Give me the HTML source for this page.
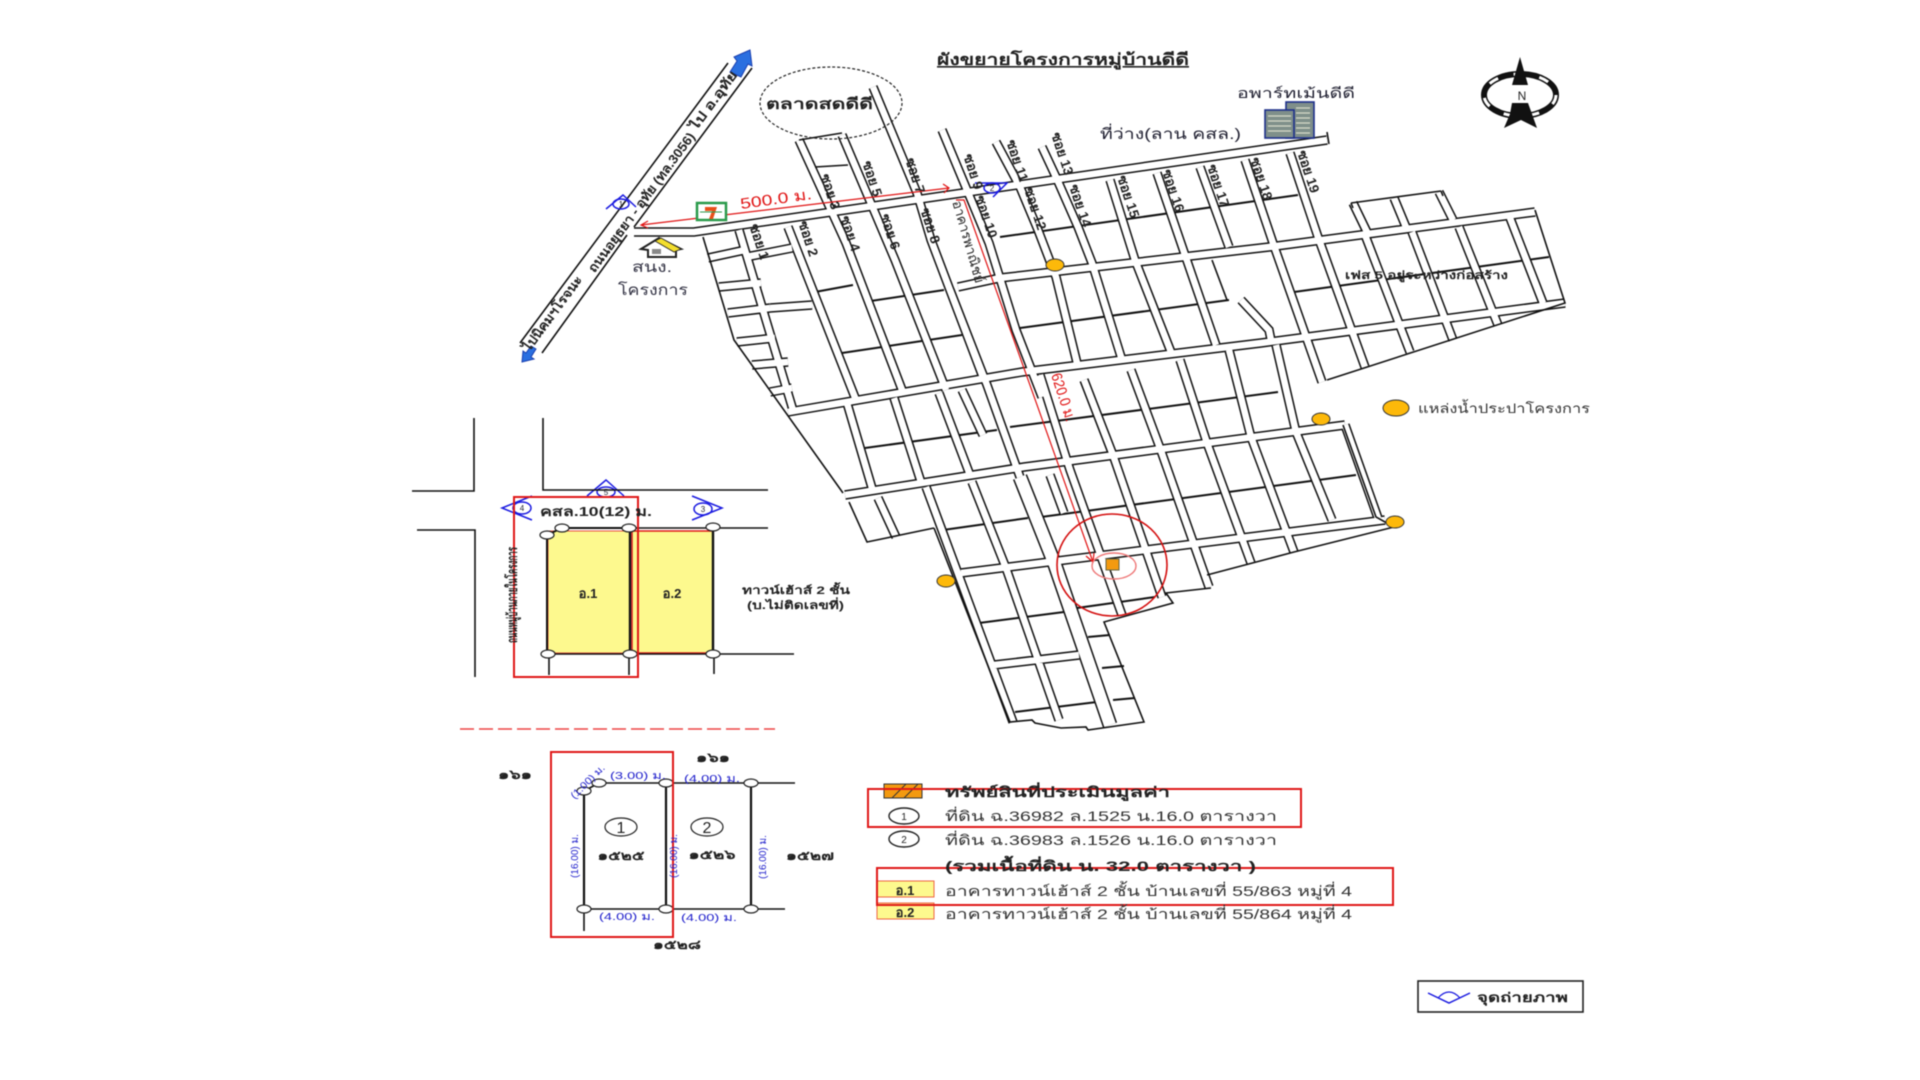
<!DOCTYPE html>
<html><head><meta charset="utf-8"><style>
html,body{margin:0;padding:0;background:#fff;width:1920px;height:1080px;overflow:hidden}
svg{display:block;filter:blur(.5px)}
text{font-family:"Liberation Sans","DejaVu Sans","Noto Sans CJK SC",sans-serif}
.b{font-weight:bold}
.bl{font-size:10px;fill:#22c}
.d{font-size:13px;font-weight:bold;fill:#222;text-anchor:middle}
</style></head><body>
<svg width="1920" height="1080" viewBox="0 0 1920 1080" xmlns="http://www.w3.org/2000/svg">
<defs>
<path id="r" d="M634 232L694 232L1327 140M958 287L1000 278L1269 247L1535 212M788 412L1022 372L1261 343L1565 303M845 495L1024 467L1345 425M961 573L1385 520
M739 230L793 410M788 227L856 400M799 140L846 243L904 395M842 135L895 260L946 390M873 87L917 193L931 240L984 380M942 130L967 190L989 243L1016 330L1042 397M996 142L1020 187L1038 230L1056 277L1078 367M1042 147L1056 177L1078 227L1092 263L1122 360M1110 180L1135 260L1171 352M1157 173L1184 252L1216 345M1200 167L1229 247M1245 160L1273 243L1322 382M1290 153L1318 237L1365 367M1365 235L1410 352M1412 232L1453 340M1459 227L1498 325M1510 218L1543 303M1353 203L1367 232M1394 198L1406 227M1439 192L1453 220
M847 403L872 488M894 398L921 482M939 393L970 475M950 290L987 385L1020 477M962 390L983 435M1040 375L1070 470L1122 615M1084 380L1113 455L1162 597M1131 370L1160 448L1209 587M1180 360L1207 443L1251 563M1229 350L1251 437L1294 552M1276 345L1296 432L1332 520M1345 425L1378 518
M926 487L1013 722M972 482L1006 568L1059 720M878 498L896 537M1050 475L1064 513M994 665L1079 655
M708 258L745 250M719 287L761 283M728 313L770 308M737 342L775 338M752 365L788 362M770 392L792 388M746 257L792 248M770 308L812 305
M1241 300L1269 330L1271 340"/>
<path id="w" d="M1020 477L1055 565L1110 725"/>
</defs>
<g fill="none" stroke-linejoin="miter">
<use href="#r" stroke="#111" stroke-width="9.5"/>
<use href="#w" stroke="#111" stroke-width="15"/>
<!-- block dividers sit under the white road fill -->
<g stroke="#111" stroke-width="2">
<path d="M1000 237L1298 195M1294 292L1549 257M1020 328L1229 300M815 292L853 285M864 302L944 290M842 353L962 335M865 448L997 430M1010 427L1278 392M943 530L1028 518M1041 517L1356 475M979 623L1064 612M1077 608L1155 597M1015 712L1097 702M1088 637L1110 635M1102 668L1124 666M1113 700L1135 698"/>
<path d="M1212 260L1227 300" stroke-width="1.6"/>
</g>
<use href="#r" stroke="#fff" stroke-width="6.5"/>
<use href="#w" stroke="#fff" stroke-width="12"/>
<!-- boundaries and single lines -->
<g stroke="#111" stroke-width="1.6">
<path d="M703 237L734 340L843 493M1351 203L1441 191M1351 203L1353 208M1441 191L1443 196M1535 210L1565 303L1327 380M1343 425L1376 517L1394 527L1294 552L1207 575M1211 588L1166 593L1173 603L1104 622L1144 722L1088 730L1086 727L1061 728L1035 723L1032 720L1010 722L934 528M849 502L867 542L934 528"/>
<path d="M1327 132L1329 144M799 140L842 133M815 167L848 165"/>
</g>
<!-- highway -->
<g stroke="#111" stroke-width="1.6">
<path d="M728 63L520 343M752 68L634 227M627 235L542 353"/>
</g>
<path d="M730 72L737 61L734 57L750 50L752 66L748 64L741 77Z" fill="#2a6fe0" stroke="#1a3fb0" stroke-width="1"/>
<path d="M522 362L523 351L526 353L531 346L536 349L531 357L534 359Z" fill="#2a6fe0" stroke="#1a3fb0" stroke-width="1"/>
<ellipse cx="831" cy="103" rx="71" ry="36" stroke="#222" stroke-width="1.2" stroke-dasharray="3 2"/>
<!-- red routes -->
<g stroke="#e01414" stroke-width="1.2">
<path d="M641 225L949 188M648 221L641 225L648 228M943 184L949 188L944 193"/>
<path d="M956 200L964 200L1093 562M1086 556L1093 562L1094 553"/>
<ellipse cx="1112" cy="565" rx="55" ry="51" stroke="#d40f0f" stroke-width="1.6"/>
<ellipse cx="1114" cy="566" rx="22" ry="13" stroke="#ee7777" stroke-width="1.4"/>
</g>
</g>
<rect x="1106" y="559" width="13" height="11" fill="#f39a10" stroke="#664" stroke-width="1"/>
<!-- dots -->
<g fill="#fdb90a" stroke="#333" stroke-width="1">
<ellipse cx="1055" cy="265" rx="9" ry="6"/><ellipse cx="1321" cy="419" rx="9" ry="6"/><ellipse cx="1395" cy="522" rx="9" ry="6"/><ellipse cx="946" cy="581" rx="9" ry="6"/><ellipse cx="1396" cy="408" rx="13" ry="8"/>
</g>
<!-- 7-11 -->
<rect x="697" y="203" width="29" height="17" fill="#fff" stroke="#2a9a4a" stroke-width="2.5"/>
<path d="M705 207H717L713 219H709L712 211H705Z" fill="#e8501a"/>
<path d="M700 212H722" stroke="#2a9a4a" stroke-width="1"/>
<!-- house -->
<path d="M641 249L659 238L681 249L676 250V257H648V250Z" fill="#fff" stroke="#222" stroke-width="2"/>
<path d="M661 238L681 249L674 252L655 241Z" fill="#f3de2e" stroke="#222" stroke-width=".8"/>
<rect x="652" y="249" width="9" height="5" fill="#888"/>
<!-- apartment -->
<g stroke="#1d2f8a" stroke-width="1.6" fill="#7f8f8a">
<rect x="1286" y="102" width="28" height="36"/><rect x="1265" y="110" width="29" height="28"/>
</g>
<g stroke="#d8dcc8" stroke-width="1.2"><path d="M1296 108H1310M1296 113H1310M1296 118H1310M1296 123H1310M1296 128H1310M1296 133H1310M1268 116H1291M1268 121H1291M1268 126H1291M1268 131H1291"/></g>
<!-- compass -->
<ellipse cx="1520" cy="95" rx="36" ry="21" fill="none" stroke="#111" stroke-width="6"/>
<ellipse cx="1520" cy="95" rx="36" ry="21" fill="none" stroke="#fff" stroke-width="3" stroke-dasharray="10 16"/>
<path d="M1520 57L1512 85H1528Z" fill="#111"/>
<path d="M1512 103H1528L1532 114L1537 128L1521 120L1504 128L1510 114Z" fill="#111"/>
<text x="1522" y="100" font-size="12" text-anchor="middle" fill="#222">N</text>
<!-- markers -->
<g fill="none" stroke="#1a1ae0" stroke-width="1.5">
<path d="M606 209L623 195L636 207"/><ellipse cx="621" cy="204" rx="8" ry="5"/>
<path d="M975 183H1007L993 197"/><ellipse cx="992" cy="188" rx="8" ry="5"/>
<path d="M587 496L606 480L624 496"/><ellipse cx="606" cy="492" rx="9" ry="5"/>
<path d="M532 496L502 508L532 520"/><ellipse cx="522" cy="508" rx="9" ry="6"/>
<path d="M692 496L722 508L692 520"/><ellipse cx="703" cy="509" rx="9" ry="6"/>
<path d="M1428 993L1449 1003L1470 993"/><path d="M1438 998Q1449 986 1460 998" stroke-width="1.2"/>
</g>
<g font-size="8" fill="#223" text-anchor="middle">
<text x="621" y="207">1</text><text x="992" y="191">2</text><text x="606" y="495">5</text><text x="522" y="511">4</text><text x="703" y="512">3</text>
</g>
<!-- inset 1 -->
<rect x="548" y="531" width="82" height="122" fill="#fdf98e" stroke="#e85040" stroke-width="1"/>
<rect x="632" y="531" width="81" height="122" fill="#fdf98e" stroke="#e01818" stroke-width="1.5"/>
<g fill="none" stroke="#111" stroke-width="1.6">
<path d="M474 418V491H412M543 418V490H768M417 530H475V677M562 528H768M713 654H794M548 654H713M549 654V675M629 654V675M714 654V674"/>
<path d="M547 535V654M562 528H629M547 535L562 528" stroke-width="2"/>
<path d="M630 528V654M713 528V654" stroke-width="2.4"/>
</g>
<g fill="#fff" stroke="#222" stroke-width="1.2">
<ellipse cx="547" cy="535" rx="7" ry="4"/><ellipse cx="562" cy="528" rx="7" ry="4"/><ellipse cx="629" cy="528" rx="7" ry="4"/><ellipse cx="713" cy="527" rx="7" ry="4"/><ellipse cx="548" cy="654" rx="7" ry="4"/><ellipse cx="630" cy="654" rx="7" ry="4"/><ellipse cx="713" cy="654" rx="7" ry="4"/>
</g>
<rect x="514" y="497" width="124" height="180" fill="none" stroke="#e01818" stroke-width="2"/>
<line x1="460" y1="729" x2="775" y2="729" stroke="#e44" stroke-width="1.6" stroke-dasharray="14 5"/>
<!-- inset 2 -->
<g fill="none" stroke="#111" stroke-width="1.6">
<path d="M599 783H795M584 909H785M584 909V931M584 791L599 783"/>
<path d="M584 791V909M666 783V909M751 783V909" stroke-width="2.2"/>
</g>
<g fill="#fff" stroke="#222" stroke-width="1.2">
<ellipse cx="584" cy="791" rx="7" ry="4"/><ellipse cx="599" cy="783" rx="7" ry="4"/><ellipse cx="666" cy="783" rx="7" ry="4"/><ellipse cx="751" cy="783" rx="7" ry="4"/><ellipse cx="584" cy="909" rx="7" ry="4"/><ellipse cx="666" cy="909" rx="7" ry="4"/><ellipse cx="751" cy="909" rx="7" ry="4"/>
<ellipse cx="621" cy="827" rx="16" ry="9"/><ellipse cx="707" cy="827" rx="16" ry="9"/>
</g>
<rect x="551" y="752" width="122" height="185" fill="none" stroke="#e01818" stroke-width="2"/>
<!-- legend graphics -->
<rect x="884" y="784" width="38" height="14" fill="#f39a10" stroke="#333" stroke-width="1"/>
<path d="M892 798L906 784M904 798L918 784" stroke="#333"/>
<g fill="#fff" stroke="#222" stroke-width="1.4"><ellipse cx="904" cy="816" rx="15" ry="8"/><ellipse cx="904" cy="839" rx="15" ry="8"/></g>
<rect x="877" y="881" width="57" height="16" fill="#fdf98e" stroke="#ee6644" stroke-width="1"/>
<rect x="877" y="903" width="57" height="16" fill="#fdf98e" stroke="#ee6644" stroke-width="1"/>
<rect x="868" y="789" width="433" height="38" fill="none" stroke="#e01818" stroke-width="2"/>
<rect x="877" y="868" width="516" height="37" fill="none" stroke="#e01818" stroke-width="2"/>
<rect x="1418" y="981" width="165" height="31" fill="none" stroke="#222" stroke-width="1.6"/>
<!-- texts -->
<text x="937" y="65" font-size="16" class="b" fill="#222" text-decoration="underline" textLength="252" lengthAdjust="spacingAndGlyphs">ผังขยายโครงการหมู่บ้านดีดี</text>
<text x="766" y="109" font-size="15" class="b" fill="#222" textLength="107" lengthAdjust="spacingAndGlyphs">ตลาดสดดีดี</text>
<text x="1237" y="98" font-size="14" fill="#223" textLength="118" lengthAdjust="spacingAndGlyphs">อพาร์ทเม้นดีดี</text>
<text x="1100" y="139" font-size="15" fill="#223" textLength="141" lengthAdjust="spacingAndGlyphs">ที่ว่าง(ลาน คสล.)</text>
<text x="632" y="272" font-size="15" fill="#334" textLength="40" lengthAdjust="spacingAndGlyphs">สนง.</text>
<text x="618" y="295" font-size="15" fill="#334" textLength="70" lengthAdjust="spacingAndGlyphs">โครงการ</text>
<text x="1418" y="413" font-size="13" fill="#333" textLength="172" lengthAdjust="spacingAndGlyphs">แหล่งน้ำประปาโครงการ</text>
<text x="1345" y="279" font-size="11" class="b" fill="#222" textLength="163" lengthAdjust="spacingAndGlyphs">เฟส 5 อยู่ระหว่างก่อสร้าง</text>
<text transform="translate(741,209) rotate(-8)" font-size="15" fill="#e01414" textLength="72" lengthAdjust="spacingAndGlyphs">500.0 ม.</text>
<text transform="translate(1051,375) rotate(72)" font-size="15" fill="#e01414" textLength="50" lengthAdjust="spacingAndGlyphs">620.0 ม.</text>
<text transform="translate(645,205) rotate(-53.5)" font-size="13" class="b" fill="#222" text-anchor="middle" textLength="170" lengthAdjust="spacingAndGlyphs">ถนนอยุธยา - อุทัย (ทล.3056)</text>
<text transform="translate(717,103) rotate(-53.5)" font-size="13" class="b" fill="#222" text-anchor="middle" textLength="70" lengthAdjust="spacingAndGlyphs">ไป อ.อุทัย</text>
<text transform="translate(556,316) rotate(-53.5)" font-size="13" class="b" fill="#222" text-anchor="middle" textLength="90" lengthAdjust="spacingAndGlyphs">ไปนิคมฯโรจนะ</text>
<g font-size="13.5" font-weight="bold" fill="#222" text-anchor="middle">
<text transform="translate(755,243) rotate(72)">ซอย 1</text>
<text transform="translate(804,240) rotate(72)">ซอย 2</text>
<text transform="translate(826,193) rotate(72)">ซอย 3</text>
<text transform="translate(846,235) rotate(72)">ซอย 4</text>
<text transform="translate(868,180) rotate(72)">ซอย 5</text>
<text transform="translate(886,233) rotate(72)">ซอย 6</text>
<text transform="translate(911,177) rotate(72)">ซอย 7</text>
<text transform="translate(926,227) rotate(72)">ซอย 8</text>
<text transform="translate(969,173) rotate(72)">ซอย 9</text>
<text transform="translate(982,218) rotate(72)">ซอย 10</text>
<text transform="translate(1013,162) rotate(72)">ซอย 11</text>
<text transform="translate(1031,210) rotate(72)">ซอย 12</text>
<text transform="translate(1058,155) rotate(72)">ซอย 13</text>
<text transform="translate(1076,207) rotate(72)">ซอย 14</text>
<text transform="translate(1124,198) rotate(72)">ซอย 15</text>
<text transform="translate(1169,192) rotate(72)">ซอย 16</text>
<text transform="translate(1214,187) rotate(72)">ซอย 17</text>
<text transform="translate(1257,180) rotate(72)">ซอย 18</text>
<text transform="translate(1304,173) rotate(72)">ซอย 19</text>
<text transform="translate(964,243) rotate(74)" font-weight="normal" textLength="85" lengthAdjust="spacingAndGlyphs">อาคารพาณิชย์</text>
</g>
<text x="540" y="516" font-size="13" class="b" fill="#222" textLength="112" lengthAdjust="spacingAndGlyphs">คสล.10(12) ม.</text>
<text x="588" y="598" class="d">อ.1</text>
<text x="672" y="598" class="d">อ.2</text>
<text x="742" y="594" font-size="11" class="b" fill="#222" textLength="108" lengthAdjust="spacingAndGlyphs">ทาวน์เฮ้าส์ 2 ชั้น</text>
<text x="747" y="609" font-size="11" class="b" fill="#222" textLength="97" lengthAdjust="spacingAndGlyphs">(บ.ไม่ติดเลขที่)</text>
<text transform="translate(517,595) rotate(-90)" font-size="14" class="b" fill="#222" text-anchor="middle" textLength="96" lengthAdjust="spacingAndGlyphs">ถนนหมู่บ้านภายในโครงการ</text>
<text x="713" y="762" class="d" textLength="34" lengthAdjust="spacingAndGlyphs">๑๖๑</text>
<text x="515" y="779" class="d" textLength="34" lengthAdjust="spacingAndGlyphs">๑๖๑</text>
<text x="621" y="860" class="d" textLength="47" lengthAdjust="spacingAndGlyphs">๑๕๒๕</text>
<text x="712" y="859" class="d" textLength="47" lengthAdjust="spacingAndGlyphs">๑๕๒๖</text>
<text x="810" y="860" class="d" textLength="48" lengthAdjust="spacingAndGlyphs">๑๕๒๗</text>
<text x="677" y="949" class="d" textLength="48" lengthAdjust="spacingAndGlyphs">๑๕๒๘</text>
<g font-size="16" fill="#222" text-anchor="middle"><text x="621" y="833">1</text><text x="707" y="833">2</text></g>
<g class="bl" text-anchor="middle">
<text x="638" y="779" textLength="56" lengthAdjust="spacingAndGlyphs">(3.00) ม.</text>
<text x="712" y="782" textLength="56" lengthAdjust="spacingAndGlyphs">(4.00) ม.</text>
<text x="627" y="920" textLength="56" lengthAdjust="spacingAndGlyphs">(4.00) ม.</text>
<text x="709" y="921" textLength="56" lengthAdjust="spacingAndGlyphs">(4.00) ม.</text>
<text transform="translate(590,784) rotate(-45)" textLength="44" lengthAdjust="spacingAndGlyphs">(1.00) ม.</text>
<text transform="translate(578,856) rotate(-90)">(16.00) ม.</text>
<text transform="translate(677,856) rotate(-90)">(16.00) ม.</text>
<text transform="translate(766,857) rotate(-90)">(16.00) ม.</text>
</g>
<g font-size="10" fill="#222" text-anchor="middle"><text x="904" y="820">1</text><text x="904" y="843">2</text></g>
<text x="945" y="797" font-size="14" class="b" fill="#222" textLength="225" lengthAdjust="spacingAndGlyphs">ทรัพย์สินที่ประเมินมูลค่า</text>
<text x="945" y="821" font-size="14" fill="#333" textLength="332" lengthAdjust="spacingAndGlyphs">ที่ดิน ฉ.36982 ล.1525 น.16.0 ตารางวา</text>
<text x="945" y="845" font-size="14" fill="#333" textLength="332" lengthAdjust="spacingAndGlyphs">ที่ดิน ฉ.36983 ล.1526 น.16.0 ตารางวา</text>
<text x="945" y="871" font-size="14" class="b" fill="#222" textLength="311" lengthAdjust="spacingAndGlyphs">(รวมเนื้อที่ดิน  น. 32.0 ตารางวา )</text>
<text x="905" y="895" class="d" font-size="11">อ.1</text>
<text x="905" y="917" class="d" font-size="11">อ.2</text>
<text x="945" y="896" font-size="14" fill="#333" textLength="407" lengthAdjust="spacingAndGlyphs">อาคารทาวน์เฮ้าส์ 2 ชั้น บ้านเลขที่ 55/863 หมู่ที่ 4</text>
<text x="945" y="919" font-size="14" fill="#333" textLength="407" lengthAdjust="spacingAndGlyphs">อาคารทาวน์เฮ้าส์ 2 ชั้น บ้านเลขที่ 55/864 หมู่ที่ 4</text>
<text x="1477" y="1002" font-size="13" class="b" fill="#222" textLength="91" lengthAdjust="spacingAndGlyphs">จุดถ่ายภาพ</text>
</svg>
</body></html>
